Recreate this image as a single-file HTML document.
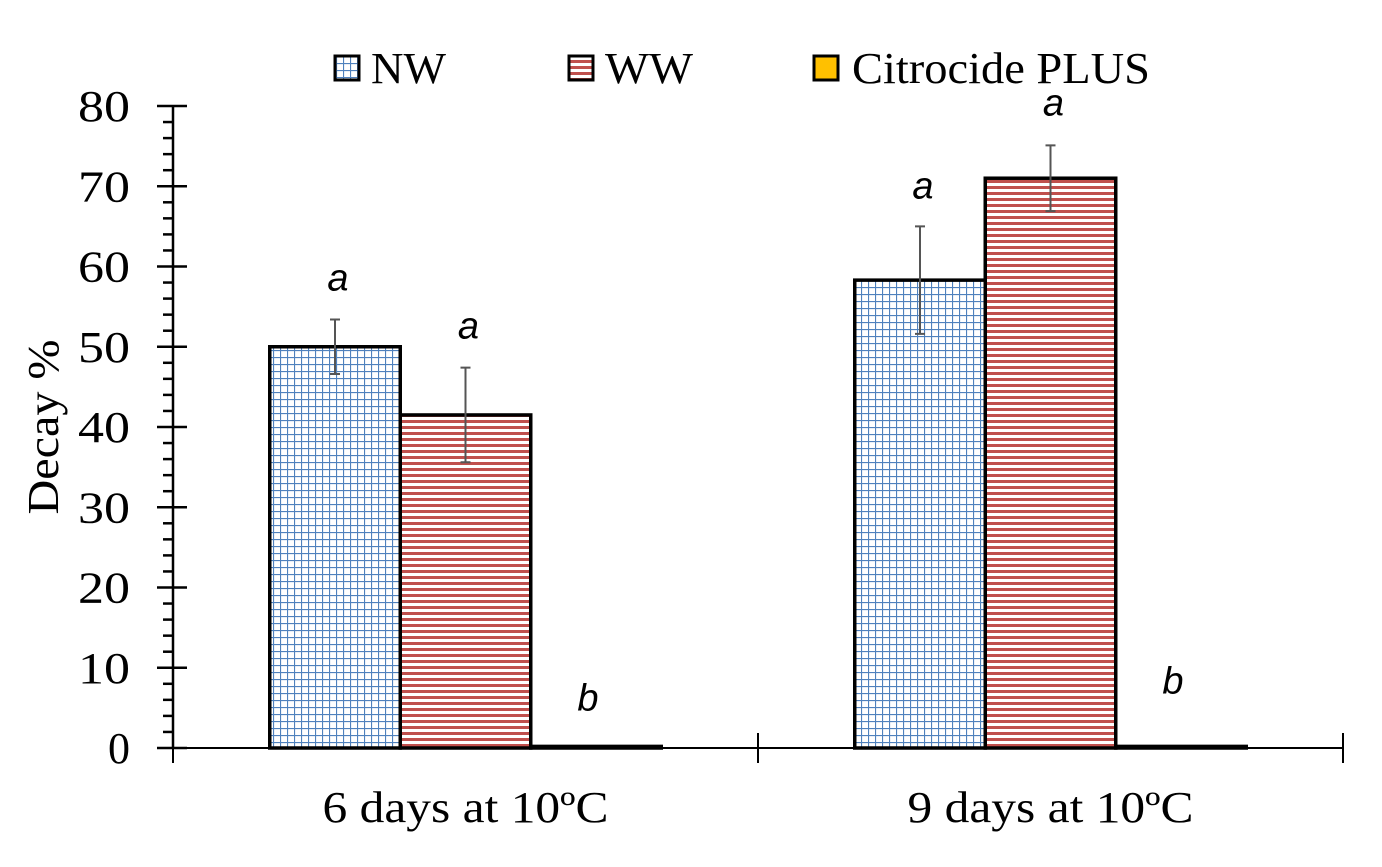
<!DOCTYPE html>
<html><head><meta charset="utf-8"><style>
body{margin:0;background:#fff;}
svg text{font-family:"Liberation Serif",serif;}
</style></head><body>
<svg id="chart" width="1382" height="862" xmlns="http://www.w3.org/2000/svg">
<defs>
<pattern id="grid" width="7" height="7" patternUnits="userSpaceOnUse">
<rect width="7" height="7" fill="#fff"/>
<path d="M0 0.5H7M0.5 0V7" stroke="#4f81bd" stroke-width="1.2"/>
</pattern>
<pattern id="stripe" width="6" height="6" patternUnits="userSpaceOnUse">
<rect width="6" height="6" fill="#fff"/>
<rect width="6" height="3" fill="#c0504d"/>
</pattern>
</defs>
<g id="axes"></g>
<g id="bars"></g>
<g id="legend">
<rect x="335" y="56" width="24" height="24" fill="url(#grid)" stroke="#000" stroke-width="3"/>
<text x="371" y="83" font-size="44" textLength="75" lengthAdjust="spacingAndGlyphs">NW</text>
<rect x="569" y="56" width="24" height="24" fill="url(#stripe)" stroke="#000" stroke-width="3"/>
<text x="605" y="83" font-size="44" textLength="88" lengthAdjust="spacingAndGlyphs">WW</text>
<rect x="814" y="56" width="24" height="24" fill="#ffc000" stroke="#000" stroke-width="3"/>
<text x="852" y="83" font-size="44" textLength="298" lengthAdjust="spacingAndGlyphs">Citrocide PLUS</text>
</g>
<text transform="translate(58,427) rotate(-90)" text-anchor="middle" font-size="44" textLength="175" lengthAdjust="spacingAndGlyphs">Decay %</text>
</svg>
<script>
const categories=["6 days at 10ºC","9 days at 10ºC"];
const seriesNames=["NW","WW","Citrocide PLUS"];
const nwValues=[50,58.3];
const wwValues=[41.5,71];
const cpValues=[0.2,0.2];
const nwErr=[3.4,6.7];
const wwErr=[5.9,4.1];
const cpErr=[0,0];
const letters=[["a","a","b"],["a","a","b"]];
const letterHeights=[[57,51,4.7],[68.5,78.8,6.8]];
const yTicks=[0,10,20,30,40,50,60,70,80];

const NS="http://www.w3.org/2000/svg";
const x0=173,x1=1343,yBase=748,yTop=106,yMax=80;
const y=v=>yBase-(v/yMax)*(yBase-yTop);
const catW=(x1-x0)/categories.length;
const barW=130.5;
function mk(tag,attrs,parent){const e=document.createElementNS(NS,tag);for(const k in attrs)e.setAttribute(k,attrs[k]);parent.appendChild(e);return e;}
const axes=document.getElementById('axes'),bars=document.getElementById('bars');
let ya=mk('line',{x1:x0,y1:y(0),x2:x0,y2:y(yMax),stroke:'#000','stroke-width':2.5},axes);


for(let v=0;v<=yMax;v+=2){
  const major=v%10===0;
  const t=mk('line',{x1:major?157:163,y1:y(v),x2:major?187:x0,y2:y(v),stroke:'#000','stroke-width':2.5},axes);
  
  
}
yTicks.forEach(v=>{
  const t=mk('text',{x:130,y:y(v)+15,'text-anchor':'end','font-size':44},axes);
  if(v>0){t.setAttribute('textLength',52);t.setAttribute('lengthAdjust','spacingAndGlyphs');}
  t.textContent=v;
  
  
});
let xa=mk('line',{x1:x0,y1:yBase,x2:x1,y2:yBase,stroke:'#000','stroke-width':2},axes);


for(let i=0;i<=categories.length;i++){
  const t=mk('line',{x1:x0+i*catW,y1:yBase-15,x2:x0+i*catW,y2:yBase+15,stroke:'#000','stroke-width':2},axes);
  
  
}
categories.forEach((c,i)=>{
  const t=mk('text',{x:x0+(i+0.5)*catW,y:822,'text-anchor':'middle','font-size':44,textLength:286,lengthAdjust:'spacingAndGlyphs'},axes);
  t.textContent=c;
  
  
});
const series=[nwValues,wwValues,cpValues],errs=[nwErr,wwErr,cpErr];
const fills=['url(#grid)','url(#stripe)','#ffc000'];
categories.forEach((c,i)=>{
  const start=x0+(i+0.5)*catW-1.5*barW;
  series.forEach((s,j)=>{
    const bx=start+j*barW,v=s[i];
    const r=mk('rect',{x:bx,y:y(v),width:barW,height:Math.max(yBase-y(v),1.5),fill:fills[j],stroke:'#000','stroke-width':3.5},bars);
    
    
    const cx=bx+barW/2,e=errs[j][i];
    if(e>0){
      const eb=mk('path',{d:`M${cx} ${y(v+e)}V${y(v-e)}M${cx-5} ${y(v+e)}H${cx+5}M${cx-5} ${y(v-e)}H${cx+5}`,stroke:'#555','stroke-width':2,fill:'none'},bars);
      
      
    }
    const lt=mk('text',{x:cx+(j==2?-8:3),y:y(letterHeights[i][j]),'text-anchor':'middle','font-size':38,'font-style':'italic',style:'font-family:"Liberation Sans",sans-serif'},bars);
    lt.textContent=letters[i][j];
    
    
  });
});
</script>
</body></html>
